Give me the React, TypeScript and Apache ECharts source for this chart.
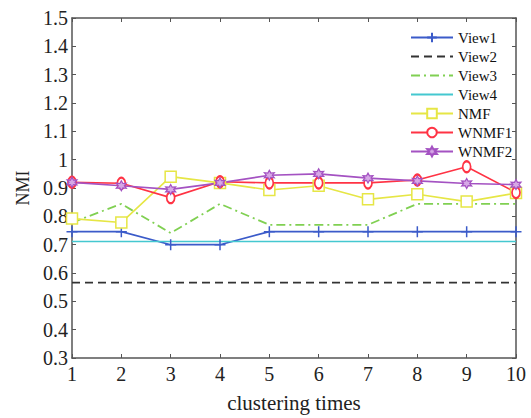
import React, { useEffect, useRef } from "react";
import * as echarts from "echarts";

const categories = ["1", "2", "3", "4", "5", "6", "7", "8", "9", "10"];
const view1 = [0.746, 0.746, 0.700, 0.700, 0.746, 0.746, 0.746, 0.746, 0.746, 0.746];
const view2 = [0.566, 0.566, 0.566, 0.566, 0.566, 0.566, 0.566, 0.566, 0.566, 0.566];
const view3 = [0.778, 0.844, 0.741, 0.844, 0.770, 0.770, 0.770, 0.844, 0.844, 0.844];
const view4 = [0.711, 0.711, 0.711, 0.711, 0.711, 0.711, 0.711, 0.711, 0.711, 0.711];
const nmf = [0.792, 0.778, 0.940, 0.918, 0.893, 0.908, 0.860, 0.878, 0.852, 0.882];
const wnmf1 = [0.920, 0.917, 0.866, 0.922, 0.918, 0.918, 0.918, 0.928, 0.975, 0.884];
const wnmf2 = [0.920, 0.908, 0.895, 0.918, 0.945, 0.950, 0.935, 0.925, 0.916, 0.912];
const legendNames = ["View1", "View2", "View3", "View4", "NMF", "WNMF1", "WNMF2"];

const FONT = "'Liberation Serif', 'DejaVu Serif', serif";

const plusPath = "path://M5,0L5,10M0,5L10,5";
const hexPath =
  "path://M5,0L6.3,2.75L9.33,2.5L7.6,5L9.33,7.5L6.3,7.25L5,10L3.7,7.25L0.67,7.5L2.4,5L0.67,2.5L3.7,2.75Z";

export default function App() {
  const ref = useRef<HTMLDivElement>(null);
  useEffect(() => {
    if (!ref.current) return;
    const chart = echarts.init(ref.current, null, { renderer: "svg" });
    const axisLine = { show: true, lineStyle: { color: "#555", width: 1.5 } };
    const tick = { show: true, inside: true, length: 4, lineStyle: { color: "#555" } };
    const mk = (name: string, data: number[], color: string, opts: any = {}) => ({
      name,
      type: "line",
      data,
      xAxisIndex: 0,
      yAxisIndex: 0,
      symbol: "none",
      lineStyle: { color, width: 1.6, type: "solid" },
      itemStyle: { color },
      ...opts,
    });
    const noSymbol = ["View2", "View3", "View4"];
    chart.setOption({
      animation: false,
      backgroundColor: "#fff",
      textStyle: { fontFamily: FONT },
      grid: { left: 72, right: 15, top: 18, bottom: 52 },
      legend: {
        orient: "vertical",
        left: 410,
        top: 30,
        padding: 0,
        itemWidth: 42,
        itemHeight: 12,
        itemGap: 4,
        textStyle: { fontFamily: FONT, fontSize: 15, color: "#111" },
        data: legendNames.map((n) =>
          noSymbol.includes(n) ? { name: n, itemStyle: { opacity: 0 } } : { name: n }
        ),
      },
      xAxis: [
        {
          type: "category",
          data: categories,
          boundaryGap: false,
          position: "bottom",
          axisLine,
          axisTick: tick,
          axisLabel: { fontFamily: FONT, fontSize: 20, color: "#222", margin: 6 },
          splitLine: { show: false },
          name: "clustering times",
          nameLocation: "middle",
          nameGap: 34,
          nameTextStyle: { fontFamily: FONT, fontSize: 21, color: "#222" },
        },
        {
          type: "category",
          data: categories,
          boundaryGap: false,
          position: "top",
          axisLine,
          axisTick: tick,
          axisLabel: { show: false },
          splitLine: { show: false },
        },
      ],
      yAxis: [
        {
          type: "value",
          min: 0.3,
          max: 1.5,
          interval: 0.1,
          position: "left",
          axisLine,
          axisTick: tick,
          axisLabel: {
            fontFamily: FONT,
            fontSize: 20,
            color: "#222",
            margin: 4,
            formatter: (v: number) => String(Number(v.toFixed(1))),
          },
          splitLine: { show: false },
          name: "NMI",
          nameLocation: "middle",
          nameGap: 33,
          nameTextStyle: { fontFamily: FONT, fontSize: 18, color: "#222" },
        },
        {
          type: "value",
          min: 0.3,
          max: 1.5,
          interval: 0.1,
          position: "right",
          axisLine,
          axisTick: tick,
          axisLabel: { show: false },
          splitLine: { show: false },
        },
      ],
      series: [
        mk("View1", view1, "#3b5bc9", {
          symbol: plusPath,
          symbolSize: 11,
          itemStyle: { color: "none", borderColor: "#3b5bc9", borderWidth: 1.5 },
        }),
        mk("View2", view2, "#333333", {
          lineStyle: { color: "#333", width: 1.6, type: [8, 5] },
        }),
        mk("View3", view3, "#80d052", {
          lineStyle: { color: "#80d052", width: 1.8, type: [9, 4, 2, 4] },
        }),
        mk("View4", view4, "#44c8d0"),
        mk("NMF", nmf, "#e6e645", {
          symbol: "rect",
          symbolSize: 11,
          itemStyle: { color: "#fff", borderColor: "#e6e645", borderWidth: 1.5 },
        }),
        mk("WNMF1", wnmf1, "#ff3344", {
          symbol: "emptyCircle",
          symbolSize: [8, 11],
          itemStyle: { color: "#ff3344", borderColor: "#ff3344", borderWidth: 1.5 },
        }),
        mk("WNMF2", wnmf2, "#a452c2", {
          symbol: hexPath,
          symbolSize: 10,
          itemStyle: { color: "#d6a8e6", borderColor: "#a452c2", borderWidth: 1.2 },
        }),
      ],
    });
    return () => chart.dispose();
  }, []);
  return (
    <div
      ref={ref}
      style={{ position: "absolute", left: 0, top: 0, width: 531, height: 418 }}
    />
  );
}
